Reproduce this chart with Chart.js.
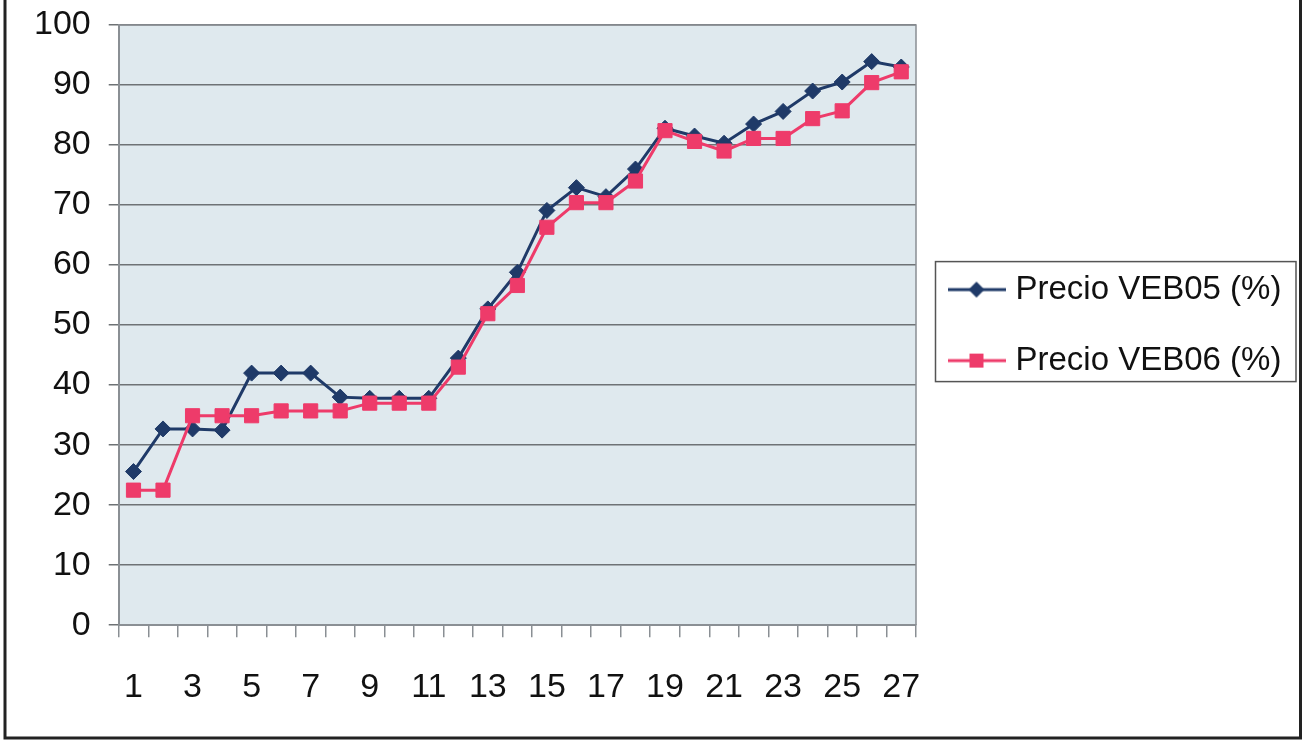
<!DOCTYPE html>
<html>
<head>
<meta charset="utf-8">
<script src="https://cdn.jsdelivr.net/npm/chart.js@4.4.1/dist/chart.umd.min.js"></script>
<style>
  html, body { margin: 0; padding: 0; background: #ffffff; }
  #wrap { position: relative; width: 1303px; height: 740px; overflow: hidden; }
  canvas { display: block; }
</style>
</head>
<body>
<div id="wrap"><canvas id="c" width="1303" height="740"></canvas></div>
<script>
const categories = ['1','2','3','4','5','6','7','8','9','10','11','12','13','14','15','16','17','18','19','20','21','22','23','24','25','26','27'];
const seriesNames = ['Precio VEB05 (%)', 'Precio VEB06 (%)'];
const veb05 = [25.6,32.7,32.7,32.5,42.0,42.0,42.0,38.0,37.8,37.8,37.8,44.5,52.7,58.8,69.1,72.9,71.4,76.0,82.8,81.5,80.3,83.5,85.6,89.0,90.5,93.9,93.0];
const veb06 = [22.5,22.5,34.9,34.9,34.9,35.7,35.7,35.7,37.0,37.0,37.0,43.0,51.9,56.6,66.3,70.4,70.4,74.0,82.4,80.6,79.0,81.1,81.1,84.4,85.7,90.4,92.2];
const yTicks = [0,10,20,30,40,50,60,70,80,90,100];

const BLUE = '#1f3a68';
const PINK = '#ee3b6a';
const FONT = '"Liberation Sans", Arial, sans-serif';
const LEGEND_W = 387;
const SYM_W = 58;
const BOX_W = 45;

function legendSymbol(color, shape) {
  const cv = document.createElement('canvas');
  cv.width = SYM_W; cv.height = 22;
  const g = cv.getContext('2d');
  const m = SYM_W / 2;
  g.strokeStyle = color; g.lineWidth = 3;
  g.beginPath(); g.moveTo(0, 11); g.lineTo(SYM_W, 11); g.stroke();
  g.fillStyle = color;
  g.beginPath();
  if (shape === 'diamond') {
    g.moveTo(m, 3); g.lineTo(m + 8, 11); g.lineTo(m, 19); g.lineTo(m - 8, 11); g.closePath();
  } else {
    g.rect(m - 7, 4, 14, 14);
  }
  g.fill();
  return cv;
}
const symA = legendSymbol(BLUE, 'diamond');
const symB = legendSymbol(PINK, 'square');

const legendWidthFix = {
  id: 'legendWidthFix',
  beforeLayout(chart) {
    const lg = chart.legend;
    if (lg && !lg._wfix) {
      const orig = lg.fit;
      lg.fit = function () { orig.call(this); this.width = LEGEND_W; };
      lg._wfix = true;
    }
  }
};

const decor = {
  id: 'decor',
  beforeDraw(chart) {
    const {ctx, chartArea: a} = chart;
    ctx.save();
    ctx.fillStyle = '#dfe9ee';
    ctx.fillRect(a.left, a.top, a.right - a.left, a.bottom - a.top);
    ctx.restore();
  },
  afterDraw(chart) {
    const {ctx, chartArea: a} = chart;
    ctx.save();
    ctx.strokeStyle = '#8a8f94';
    ctx.lineWidth = 1.5;
    ctx.beginPath();
    ctx.moveTo(a.left, a.top); ctx.lineTo(a.right, a.top); ctx.lineTo(a.right, a.bottom);
    ctx.stroke();
    // legend frame
    const lg = chart.legend;
    if (lg && lg.legendHitBoxes && lg.legendHitBoxes.length) {
      const hb = lg.legendHitBoxes;
      const first = hb[0], last = hb[hb.length - 1];
      const c1 = first.top + first.height / 2;
      const c2 = last.top + last.height / 2;
      const symLeft = first.left + BOX_W / 2 - SYM_W / 2;
      const l = symLeft - 12;
      const t = c1 - 28;
      const b = c2 + 21;
      const r = 1296;
      ctx.strokeStyle = '#555';
      ctx.lineWidth = 1.5;
      ctx.strokeRect(l, t, r - l, b - t);
    }
    // outer frame
    ctx.strokeStyle = '#222';
    ctx.lineWidth = 3;
    ctx.beginPath();
    ctx.moveTo(5, -5); ctx.lineTo(5, 738); ctx.lineTo(1300.5, 738); ctx.lineTo(1300.5, -5);
    ctx.stroke();
    ctx.restore();
  }
};

new Chart(document.getElementById('c'), {
  type: 'line',
  data: {
    labels: categories,
    datasets: [
      {
        label: seriesNames[0], data: veb05,
        borderColor: BLUE, backgroundColor: BLUE, borderWidth: 3,
        pointStyle: 'rectRot', pointRadius: 8, pointHoverRadius: 8,
        pointBackgroundColor: BLUE, pointBorderColor: BLUE, pointBorderWidth: 1,
        tension: 0, order: 2
      },
      {
        label: seriesNames[1], data: veb06,
        borderColor: PINK, backgroundColor: PINK, borderWidth: 3,
        pointStyle: 'rect', pointRadius: 10, pointHoverRadius: 10,
        pointBackgroundColor: PINK, pointBorderColor: PINK, pointBorderWidth: 1,
        tension: 0, order: 1
      }
    ]
  },
  options: {
    responsive: false,
    animation: false,
    devicePixelRatio: 1,
    layout: { padding: { left: 34, top: 25, right: 0, bottom: 2 } },
    plugins: {
      tooltip: { enabled: false },
      legend: {
        position: 'right',
        align: 'center',
        fullSize: false,
        labels: {
          usePointStyle: true,
          pointStyleWidth: BOX_W,
          padding: 38,
          color: '#111',
          font: { family: FONT, size: 33 },
          generateLabels(chart) {
            return [
              { text: seriesNames[0], pointStyle: symA, datasetIndex: 0, hidden: false, lineWidth: 0, fillStyle: BLUE, strokeStyle: BLUE, fontColor: '#111' },
              { text: seriesNames[1], pointStyle: symB, datasetIndex: 1, hidden: false, lineWidth: 0, fillStyle: PINK, strokeStyle: PINK, fontColor: '#111' }
            ];
          }
        }
      }
    },
    scales: {
      x: {
        offset: true,
        grid: {
          offset: true, drawOnChartArea: false, drawTicks: true, tickLength: 12,
          color: '#8a8f94', lineWidth: 1.5
        },
        border: { display: true, color: '#8a8f94', width: 2 },
        ticks: {
          autoSkip: false, maxRotation: 0, padding: 30,
          color: '#111', font: { family: FONT, size: 34 },
          callback(v, i) { return i % 2 === 0 ? categories[i] : ''; }
        }
      },
      y: {
        min: 0, max: 100,
        afterBuildTicks(scale) { scale.ticks = yTicks.map(v => ({ value: v })); },
        grid: {
          color: '#6e7275', lineWidth: 1.5, drawTicks: true, tickLength: 28,
          tickBorderDash: [0, 18, 10, 200], tickColor: '#6e7275', tickWidth: 1.5
        },
        border: { display: true, color: '#8a8f94', width: 2 },
        ticks: { padding: 0, color: '#111', font: { family: FONT, size: 34, lineHeight: 1 } }
      }
    }
  },
  plugins: [legendWidthFix, decor]
});
</script>
</body>
</html>
